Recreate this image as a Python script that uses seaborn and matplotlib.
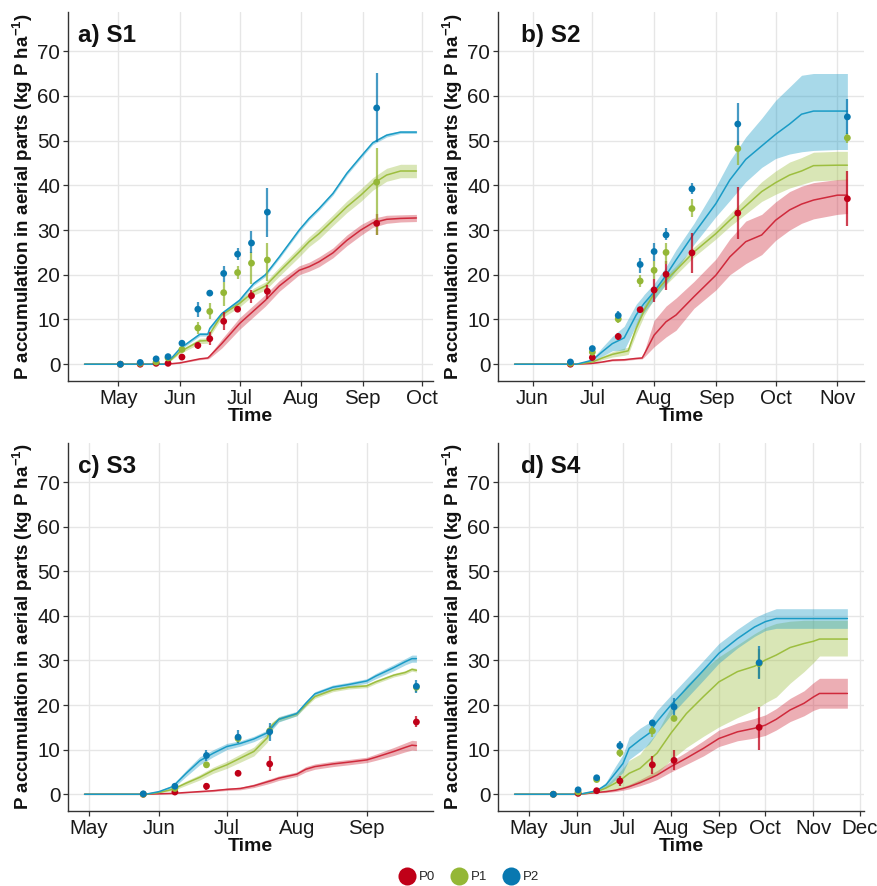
import matplotlib
matplotlib.use("Agg")
import matplotlib.pyplot as plt
import matplotlib.dates as mdates
from matplotlib.lines import Line2D
import numpy as np
import pandas as pd
import seaborn as sns

YEAR = "2020-"
TREATMENTS = ["P0", "P1", "P2"]

# ---- S1 ----
S1_LINE_DATES = ["04-14", "05-25", "06-01", "06-11", "06-15", "06-16", "06-22", "07-01", "07-08", "07-14",
                 "07-21", "07-31", "08-05", "08-10", "08-17", "08-24", "08-31", "09-06", "09-13", "09-20", "09-28"]
S1_P0 = [0, 0, 0.3, 1.2, 1.4, 1.8, 4.6, 9.1, 11.9, 14.3, 17.5, 21.0, 21.8, 22.9, 24.9, 27.7, 30.0, 31.6, 32.4, 32.6, 32.7]
S1_P0_LO = [0, 0, 0.2, 1.0, 1.2, 1.4, 3.6, 7.8, 10.6, 13.0, 16.3, 20.0, 20.8, 21.8, 23.8, 26.5, 28.8, 30.6, 31.5, 31.8, 31.9]
S1_P0_HI = [0, 0, 0.4, 1.4, 1.6, 2.2, 5.6, 10.4, 13.2, 15.6, 18.7, 22.0, 22.8, 24.0, 26.0, 28.9, 31.2, 32.6, 33.3, 33.4, 33.5]
S1_P1 = [0, 0, 2.8, 5.2, 5.3, 6.8, 11.0, 13.6, 16.2, 17.5, 20.7, 25.1, 27.4, 29.2, 32.2, 35.2, 37.8, 40.3, 42.3, 43.2, 43.2]
S1_P1_LO = [0, 0, 2.4, 4.6, 4.7, 6.2, 10.3, 12.8, 15.4, 16.6, 19.7, 24.0, 26.3, 28.0, 31.0, 33.9, 36.4, 38.9, 40.9, 41.7, 41.7]
S1_P1_HI = [0, 0, 3.2, 5.8, 5.9, 7.4, 11.7, 14.4, 17.0, 18.4, 21.7, 26.2, 28.5, 30.4, 33.4, 36.5, 39.2, 41.7, 43.8, 44.7, 44.7]
S1_P2 = [0, 0, 3.5, 6.7, 6.7, 8.0, 11.3, 14.3, 18.0, 20.0, 24.0, 30.0, 32.6, 34.8, 38.2, 42.7, 46.4, 49.5, 51.2, 51.9, 51.9]
S1_P2_LO = [0, 0, 3.2, 6.3, 6.3, 7.6, 10.9, 13.9, 17.6, 19.6, 23.6, 29.6, 32.2, 34.4, 37.8, 42.3, 46.0, 49.1, 50.8, 51.6, 51.6]
S1_P2_HI = [0, 0, 3.8, 7.1, 7.1, 8.4, 11.7, 14.7, 18.4, 20.4, 24.4, 30.4, 33.0, 35.2, 38.6, 43.1, 46.8, 49.9, 51.6, 52.2, 52.2]
S1_OBS_DATES = ["05-02", "05-12", "05-20", "05-26", "06-02", "06-10", "06-16", "06-23", "06-30", "07-07", "07-15", "09-08"]
S1_OBS_P0 = [0, 0, 0.2, 0.2, 1.6, 4.2, 5.7, 9.6, 12.3, 15.3, 16.3, 31.5]
S1_OBS_P0_LO = [0, 0, 0.1, 0.1, 1.3, 3.4, 4.2, 7.6, 11.9, 13.8, 14.5, 28.8]
S1_OBS_P0_HI = [0, 0, 0.3, 0.3, 1.9, 5.0, 7.3, 11.7, 12.7, 16.7, 17.7, 33.5]
S1_OBS_P1 = [0, 0.2, 0.5, 1.4, 3.3, 8.1, 11.8, 16.0, 20.5, 22.6, 23.3, 40.7]
S1_OBS_P1_LO = [0, 0.1, 0.3, 1.1, 2.8, 6.8, 10.0, 13.0, 19.0, 18.0, 18.7, 29.0]
S1_OBS_P1_HI = [0, 0.3, 0.7, 1.7, 3.8, 9.5, 13.6, 18.3, 22.0, 25.0, 27.0, 48.4]
S1_OBS_P2 = [0, 0.4, 1.2, 1.7, 4.7, 12.3, 15.9, 20.3, 24.6, 27.1, 34.0, 57.3]
S1_OBS_P2_LO = [0, 0.3, 1.0, 1.4, 4.2, 10.5, 15.3, 18.4, 23.4, 24.8, 28.5, 49.7]
S1_OBS_P2_HI = [0, 0.5, 1.4, 2.0, 5.2, 14.0, 16.5, 22.0, 26.0, 29.7, 39.3, 65.0]

# ---- S2 ----
S2_LINE_DATES = ["05-23", "06-23", "07-01", "07-06", "07-11", "07-17", "07-19", "07-23", "07-26", "07-27", "08-01", "08-07",
                 "08-12", "08-21", "09-01", "09-08", "09-16", "09-24", "10-01", "10-08", "10-14", "10-20", "11-01", "11-06"]
S2_P0 = [0, 0, 0.2, 0.5, 0.9, 1.0, 1.1, 1.3, 1.4, 2.2, 6.5, 9.5, 11.0, 15.1, 19.9, 24.0, 27.4, 28.9, 32.2, 34.5, 35.8, 36.7, 37.8, 37.8]
S2_P0_LO = [0, 0, 0.1, 0.4, 0.7, 0.8, 0.9, 1.1, 1.2, 1.6, 3.9, 6.1, 7.6, 12.5, 16.6, 20.0, 22.5, 24.5, 27.7, 30.0, 31.5, 32.5, 33.5, 33.7]
S2_P0_HI = [0, 0, 0.3, 0.6, 1.1, 1.2, 1.3, 1.5, 1.6, 2.8, 9.8, 13.0, 14.8, 18.5, 23.5, 28.0, 32.0, 33.5, 36.3, 38.6, 39.8, 40.6, 41.3, 41.4]
S2_P1 = [0, 0, 0.5, 1.4, 2.2, 2.8, 3.0, 8.0, 11.0, 12.1, 15.8, 18.8, 21.0, 25.1, 29.2, 32.2, 35.4, 38.6, 40.6, 42.3, 43.2, 44.4, 44.5, 44.5]
S2_P1_LO = [0, 0, 0.3, 1.0, 1.6, 2.0, 2.2, 6.8, 9.8, 10.9, 14.6, 17.8, 20.0, 24.0, 28.0, 30.8, 33.6, 36.4, 38.0, 39.4, 40.2, 41.0, 41.2, 41.2]
S2_P1_HI = [0, 0, 0.7, 1.8, 2.8, 3.6, 3.8, 9.2, 12.2, 13.3, 17.0, 19.8, 22.0, 26.2, 30.4, 33.6, 37.2, 40.8, 43.2, 45.2, 46.2, 47.4, 47.6, 47.6]
S2_P2 = [0, 0, 0.9, 2.8, 4.6, 5.9, 7.6, 11.0, 13.0, 13.6, 16.2, 19.9, 23.3, 29.2, 35.9, 41.2, 45.8, 48.8, 51.4, 53.7, 55.9, 56.6, 56.6, 56.6]
S2_P2_LO = [0, 0, 0.6, 1.8, 3.0, 3.2, 5.0, 8.8, 11.0, 11.6, 14.4, 18.0, 21.0, 26.8, 33.0, 36.6, 40.8, 44.0, 46.0, 47.0, 47.5, 47.8, 48.0, 48.0]
S2_P2_HI = [0, 0, 1.2, 3.8, 6.2, 8.5, 10.2, 13.4, 15.0, 15.6, 18.0, 21.8, 25.6, 31.5, 39.7, 45.5, 50.8, 55.0, 59.0, 62.0, 64.6, 65.0, 65.0, 65.0]
S2_OBS_DATES = ["06-20", "07-01", "07-14", "07-25", "08-01", "08-07", "08-20", "09-12", "11-06"]
S2_OBS_P0 = [0.0, 1.5, 6.2, 12.2, 16.6, 20.1, 24.9, 33.8, 37.0]
S2_OBS_P0_LO = [0.0, 1.2, 5.5, 11.7, 14.0, 16.5, 20.5, 28.0, 31.0]
S2_OBS_P0_HI = [0.0, 1.8, 7.0, 12.7, 19.0, 23.0, 29.4, 39.6, 43.2]
S2_OBS_P1 = [0.2, 2.7, 10.1, 18.6, 21.0, 25.0, 34.8, 48.2, 50.6]
S2_OBS_P1_LO = [0.1, 2.3, 9.3, 17.2, 19.0, 22.5, 33.0, 44.5, 49.5]
S2_OBS_P1_HI = [0.3, 3.1, 10.9, 20.0, 23.0, 27.0, 37.0, 50.0, 51.7]
S2_OBS_P2 = [0.5, 3.5, 10.9, 22.3, 25.2, 28.9, 39.2, 53.7, 55.3]
S2_OBS_P2_LO = [0.3, 3.0, 10.0, 20.5, 23.0, 27.8, 38.0, 49.0, 51.5]
S2_OBS_P2_HI = [0.7, 4.0, 11.8, 23.8, 27.2, 30.5, 40.5, 58.3, 59.2]

# ---- S3 ----
S3_LINE_DATES = ["04-29", "05-26", "06-01", "06-07", "06-13", "06-19", "06-25", "07-01", "07-07", "07-13", "07-19", "07-21",
                 "07-24", "08-01", "08-05", "08-09", "08-17", "08-24", "09-01", "09-05", "09-13", "09-18", "09-21", "09-23"]
S3_P0 = [0, 0, 0.1, 0.2, 0.4, 0.6, 0.8, 1.1, 1.3, 1.9, 2.8, 3.1, 3.6, 4.5, 5.6, 6.2, 6.8, 7.2, 7.7, 8.3, 9.6, 10.5, 11.0, 10.9]
S3_P0_LO = [0, 0, 0.05, 0.1, 0.3, 0.45, 0.6, 0.85, 1.0, 1.5, 2.3, 2.6, 3.1, 4.0, 5.0, 5.6, 6.2, 6.6, 7.1, 7.6, 8.7, 9.5, 9.9, 9.8]
S3_P0_HI = [0, 0, 0.15, 0.3, 0.5, 0.75, 1.0, 1.35, 1.6, 2.3, 3.3, 3.6, 4.1, 5.0, 6.2, 6.8, 7.4, 7.8, 8.3, 9.0, 10.5, 11.5, 12.1, 12.0]
S3_P1 = [0, 0, 0.4, 1.1, 2.5, 3.8, 5.4, 6.6, 8.1, 9.6, 12.7, 15.5, 16.8, 18.0, 20.0, 21.9, 23.4, 24.0, 24.3, 25.2, 26.7, 27.3, 28.0, 27.8]
S3_P1_LO = [0, 0, 0.3, 0.8, 2.0, 3.2, 4.7, 5.8, 7.2, 8.6, 11.7, 14.8, 16.3, 17.6, 19.6, 21.5, 23.0, 23.6, 23.9, 24.8, 26.3, 26.9, 27.6, 27.4]
S3_P1_HI = [0, 0, 0.5, 1.4, 3.0, 4.4, 6.1, 7.4, 9.0, 10.6, 13.7, 16.2, 17.3, 18.4, 20.4, 22.3, 23.8, 24.4, 24.7, 25.6, 27.1, 27.7, 28.4, 28.2]
S3_P2 = [0, 0, 0.6, 1.7, 4.7, 7.5, 9.2, 10.7, 11.4, 12.4, 13.8, 15.0, 16.8, 18.1, 20.4, 22.5, 24.0, 24.6, 25.4, 26.5, 28.4, 29.7, 30.4, 30.4]
S3_P2_LO = [0, 0, 0.4, 1.3, 4.0, 6.6, 8.4, 10.0, 10.8, 11.8, 13.2, 14.4, 16.2, 17.6, 19.9, 22.0, 23.5, 24.1, 24.9, 25.9, 27.7, 29.0, 29.6, 29.6]
S3_P2_HI = [0, 0, 0.8, 2.1, 5.4, 8.4, 10.0, 11.4, 12.0, 13.0, 14.4, 15.6, 17.4, 18.6, 20.9, 23.0, 24.5, 25.1, 25.9, 27.1, 29.1, 30.4, 31.2, 31.2]
S3_OBS_DATES = ["05-25", "06-08", "06-22", "07-06", "07-20", "09-23"]
S3_OBS_P0 = [0.0, 0.5, 1.8, 4.7, 6.8, 16.2]
S3_OBS_P0_LO = [0.0, 0.3, 1.0, 4.0, 5.2, 15.0]
S3_OBS_P0_HI = [0.0, 0.7, 2.6, 5.4, 8.5, 17.5]
S3_OBS_P1 = [0.0, 1.3, 6.6, 12.5, 14.2, 24.0]
S3_OBS_P1_LO = [0.0, 1.0, 6.0, 11.5, 13.0, 23.0]
S3_OBS_P1_HI = [0.1, 1.6, 7.2, 13.5, 15.4, 25.0]
S3_OBS_P2 = [0.1, 1.8, 8.7, 12.8, 14.0, 24.2]
S3_OBS_P2_LO = [0.0, 1.4, 7.5, 11.4, 12.0, 22.7]
S3_OBS_P2_HI = [0.2, 2.2, 10.0, 14.5, 16.0, 25.7]

# ---- S4 ----
S4_LINE_DATES = ["04-22", "06-03", "06-14", "06-20", "06-26", "07-01", "07-05", "07-12", "07-18", "07-23", "08-01", "08-11",
                 "08-22", "09-01", "09-13", "09-24", "10-01", "10-08", "10-17", "10-26", "11-01", "11-05", "11-23"]
S4_P0 = [0, 0, 0.4, 0.6, 0.9, 1.3, 1.7, 2.6, 3.5, 4.3, 6.2, 8.1, 10.3, 12.5, 14.0, 14.8, 15.5, 16.8, 18.9, 20.4, 21.8, 22.6, 22.6]
S4_P0_LO = [0, 0, 0.3, 0.4, 0.6, 0.9, 1.2, 1.9, 2.6, 3.3, 5.0, 6.7, 8.6, 10.7, 12.0, 12.6, 13.2, 14.4, 16.3, 17.6, 18.8, 19.3, 19.3]
S4_P0_HI = [0, 0, 0.5, 0.8, 1.2, 1.7, 2.2, 3.3, 4.4, 5.3, 7.4, 9.5, 12.0, 14.4, 16.0, 17.0, 17.8, 19.2, 21.5, 23.2, 25.0, 26.0, 26.0]
S4_P1 = [0, 0, 0.6, 1.4, 2.5, 3.6, 4.7, 5.8, 7.7, 9.2, 13.7, 18.1, 21.9, 25.2, 27.5, 28.7, 30.1, 31.2, 32.9, 33.8, 34.3, 34.8, 34.8]
S4_P1_LO = [0, 0, 0.4, 0.8, 1.1, 1.3, 1.8, 2.6, 3.6, 4.6, 7.7, 10.5, 13.0, 15.1, 17.2, 18.9, 20.5, 21.8, 24.9, 27.5, 29.5, 31.0, 31.0]
S4_P1_HI = [0, 0, 0.8, 2.0, 3.9, 5.9, 7.6, 9.0, 11.8, 13.8, 19.6, 24.5, 28.0, 30.8, 33.5, 36.0, 37.4, 38.3, 38.8, 39.0, 39.0, 39.0, 39.0]
S4_P2 = [0, 0, 0.8, 2.1, 4.7, 6.9, 10.3, 12.2, 13.7, 16.3, 20.0, 23.7, 27.8, 31.6, 34.9, 37.5, 38.7, 39.4, 39.4, 39.4, 39.4, 39.4, 39.4]
S4_P2_LO = [0, 0, 0.6, 1.5, 3.2, 4.9, 7.8, 9.6, 11.3, 13.8, 17.8, 21.5, 25.6, 29.4, 32.8, 35.4, 36.7, 37.2, 37.2, 37.2, 37.2, 37.2, 37.2]
S4_P2_HI = [0, 0, 1.0, 2.7, 6.2, 8.9, 12.8, 14.8, 16.1, 18.8, 22.2, 25.9, 30.0, 33.8, 37.0, 39.6, 40.7, 41.6, 41.6, 41.6, 41.6, 41.6, 41.6]
S4_OBS_DATES = ["05-17", "06-02", "06-14", "06-29", "07-20", "08-03", "09-27"]
S4_OBS_P0 = [0, 0.2, 0.8, 3.0, 6.6, 7.6, 15.0]
S4_OBS_P0_LO = [0, 0.1, 0.6, 1.8, 4.5, 5.5, 10.0]
S4_OBS_P0_HI = [0, 0.3, 1.0, 4.2, 8.5, 10.0, 19.6]
S4_OBS_P1 = [0, 0.5, 3.3, 9.3, 14.2, 17.0, 29.3]
S4_OBS_P1_LO = [0, 0.3, 2.9, 8.3, 12.8, 16.5, 26.0]
S4_OBS_P1_HI = [0, 0.7, 3.7, 10.2, 15.2, 17.5, 32.5]
S4_OBS_P2 = [0, 1.0, 3.7, 10.9, 16.0, 19.6, 29.5]
S4_OBS_P2_LO = [0, 0.8, 3.3, 10.0, 15.5, 17.5, 25.8]
S4_OBS_P2_HI = [0, 1.2, 4.1, 12.0, 16.5, 21.5, 33.3]

PANEL_TITLES = ["a) S1", "b) S2", "c) S3", "d) S4"]
Y_TICKS = [0, 10, 20, 30, 40, 50, 60, 70]

LINE_COLORS = {"P0": "#CF2A3C", "P1": "#9DBE3F", "P2": "#1A9BC6"}
POINT_COLORS = {"P0": "#C00018", "P1": "#94B736", "P2": "#0878B0"}

g = globals()


def long_table(site, kind):
    """Build a long table for one site: kind 'line' or 'obs'."""
    rows = []
    if kind == "line":
        dates = g[f"{site}_LINE_DATES"]
        prefix = f"{site}_"
    else:
        dates = g[f"{site}_OBS_DATES"]
        prefix = f"{site}_OBS_"
    for trt in TREATMENTS:
        val = g[prefix + trt]
        lo = g[prefix + trt + "_LO"]
        hi = g[prefix + trt + "_HI"]
        for d, v, l, h in zip(dates, val, lo, hi):
            rows.append({"date": pd.to_datetime(YEAR + d), "trt": trt, "value": v, "lo": l, "hi": h})
    return pd.DataFrame(rows)


sns.set_theme(style="whitegrid")
plt.rcParams["font.family"] = ["Liberation Sans", "DejaVu Sans"]
plt.rcParams["mathtext.fontset"] = "custom"
plt.rcParams["mathtext.rm"] = "Liberation Sans"
plt.rcParams["mathtext.bf"] = "Liberation Sans:bold"

fig = plt.figure(figsize=(8.77, 8.86), dpi=100)
W, H = 877, 886
boxes = [(68, 12, 433, 381), (498, 12, 864, 381), (68, 443, 433, 811), (498, 443, 864, 811)]
title_x = [0.027, 0.063, 0.027, 0.063]

for i, site in enumerate(["S1", "S2", "S3", "S4"]):
    l, t, r, b = boxes[i]
    ax = fig.add_axes([l / W, 1 - b / H, (r - l) / W, (b - t) / H])
    lines = long_table(site, "line")
    obs = long_table(site, "obs")

    for trt in TREATMENTS:
        sub = lines[lines.trt == trt]
        ax.fill_between(sub["date"], sub["lo"], sub["hi"], color=LINE_COLORS[trt],
                        alpha=0.38, linewidth=0, zorder=2)
    sns.lineplot(data=lines, x="date", y="value", hue="trt", palette=LINE_COLORS,
                 estimator=None, sort=False, linewidth=1.1, legend=False, ax=ax, zorder=3)
    for trt in TREATMENTS:
        sub = obs[obs.trt == trt]
        ax.vlines(sub["date"], sub["lo"], sub["hi"], color=POINT_COLORS[trt],
                  linewidth=1.6, alpha=0.75, zorder=4)
    sns.scatterplot(data=obs, x="date", y="value", hue="trt", palette=POINT_COLORS,
                    s=24, linewidth=0, legend=False, ax=ax, zorder=5)

    # ggplot-like 5% expansion of the date range
    lo_d, hi_d = lines["date"].min(), lines["date"].max()
    pad = (hi_d - lo_d) * 0.05
    ax.set_xlim(lo_d - pad, hi_d + pad)
    ax.set_ylim(-3.75, 78.75)
    ax.set_yticks(Y_TICKS)
    ax.xaxis.set_major_locator(mdates.MonthLocator())
    ax.xaxis.set_major_formatter(mdates.DateFormatter("%b"))

    ax.grid(True, color="#E6E6E6", linewidth=1.0)
    ax.set_axisbelow(True)
    for side in ["top", "right"]:
        ax.spines[side].set_visible(False)
    for side in ["left", "bottom"]:
        ax.spines[side].set_color("#333333")
        ax.spines[side].set_linewidth(1.0)
    ax.tick_params(axis="both", left=True, bottom=True, length=3.5, width=0.9,
                   color="#333333", labelsize=14.8, labelcolor="#1A1A1A", pad=2)

    ax.set_xlabel("Time", fontsize=14, fontweight="bold", labelpad=0, color="#111111")
    ax.set_ylabel(r"P accumulation in aerial parts (kg P ha$^{\mathbf{-1}}$)",
                  fontsize=13.5, fontweight="bold", labelpad=2, color="#111111")
    ax.text(title_x[i], 0.935, PANEL_TITLES[i], transform=ax.transAxes,
            fontsize=17.5, fontweight="bold", va="center", ha="left", color="#111111")

handles = [Line2D([], [], marker="o", linestyle="", markersize=13,
                  markerfacecolor=POINT_COLORS[t], markeredgewidth=0) for t in TREATMENTS]
fig.legend(handles, TREATMENTS, loc="center", bbox_to_anchor=(0.535, 0.01), ncol=3,
           frameon=False, fontsize=9.5, handletextpad=0.3, columnspacing=1.2,
           borderaxespad=0, borderpad=0, handlelength=1.2)

fig.savefig("out.png", dpi=100)
